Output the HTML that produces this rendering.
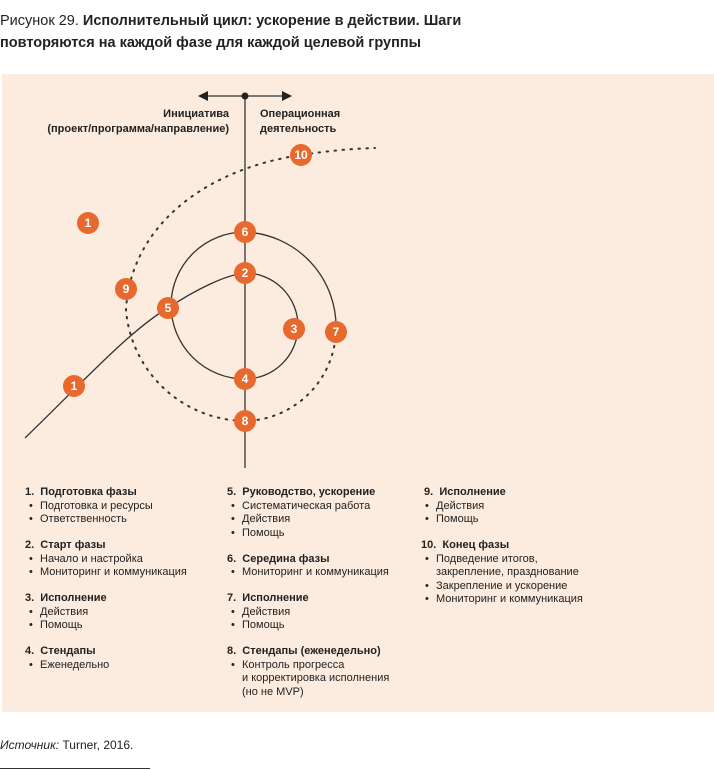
<!DOCTYPE html>
<html><head><meta charset="utf-8"><style>
body{margin:0;width:714px;height:770px;background:#fff;font-family:"Liberation Sans",sans-serif;position:relative;overflow:hidden;color:#222}
.t{position:absolute;left:0;top:10px;font-size:14.5px;line-height:22px}
.panel{position:absolute;left:2px;top:74px;width:712px;height:638px;background:#fcebdf}
.col{position:absolute;top:486px;font-size:11px;line-height:13.5px}
.col b{display:block}
.col .g{margin-bottom:12.5px}
.col div.i{padding-left:15px;position:relative}
.col div.i:before{content:"•";position:absolute;left:4px}
.src{position:absolute;left:0;top:738px;font-size:12px}
.rule{position:absolute;left:0;top:768px;width:150px;border-top:1px solid #333}
</style></head><body>
<div class="t">Рисунок 29. <b>Исполнительный цикл: ускорение в действии. Шаги<br>повторяются на каждой фазе для каждой целевой группы</b></div>
<div class="panel"></div>
<svg style="position:absolute;left:0;top:0" width="714" height="770">
<g fill="none" stroke="#333" stroke-width="1.3">
<line x1="245" y1="96" x2="245" y2="468"/>
<line x1="205" y1="96" x2="285" y2="96"/>
<path d="M25,438 C80,385 130,330 168,308 C195,290 225,275 245,273 A53 53 0 0 1 245,379"/>
<path d="M245,379 A74 74 0 0 1 171,305 A74 74 0 0 1 245,232 A95 95 0 0 1 336,330"/>
<path stroke-dasharray="1.5 6.5" stroke-width="2" stroke-linecap="round" d="M336,330 A93 93 0 0 1 245,421 A121 121 0 0 1 126,310 C130,230 200,170 301,155 Q340,149 375,148"/>
</g>
<circle cx="245" cy="96" r="3.5" fill="#222"/>
<path d="M198,96 L208,91 L208,101Z M292,96 L282,91 L282,101Z" fill="#222"/>
<g font-size="11" font-weight="bold" fill="#222">
<text x="229" y="117" text-anchor="end">Инициатива</text>
<text x="229" y="132" text-anchor="end">(проект/программа/направление)</text>
<text x="260" y="117">Операционная</text>
<text x="260" y="132">деятельность</text>
</g>
<g fill="#e8692e"><circle cx="245" cy="232" r="11"/><circle cx="245" cy="273" r="11"/><circle cx="245" cy="379" r="11"/><circle cx="245" cy="421" r="11"/><circle cx="168" cy="308" r="11"/><circle cx="294" cy="329" r="11"/><circle cx="336" cy="332" r="11"/><circle cx="126" cy="289" r="11"/><circle cx="88" cy="223" r="11"/><circle cx="74" cy="386" r="11"/><circle cx="301" cy="155" r="11"/></g>
<g fill="#fff" font-size="12" font-weight="bold" text-anchor="middle">
<text x="245" y="236">6</text><text x="245" y="277">2</text><text x="245" y="383">4</text><text x="245" y="425">8</text><text x="168" y="312">5</text><text x="294" y="333">3</text><text x="336" y="336">7</text><text x="126" y="293">9</text><text x="88" y="227">1</text><text x="74" y="390">1</text><text x="301" y="159">10</text></g>
</svg>
<div class="col" style="left:25px">
<div class="g"><b>1.&nbsp; Подготовка фазы</b><div class="i">Подготовка и ресурсы</div><div class="i">Ответственность</div></div>
<div class="g"><b>2.&nbsp; Старт фазы</b><div class="i">Начало и настройка</div><div class="i">Мониторинг и коммуникация</div></div>
<div class="g"><b>3.&nbsp; Исполнение</b><div class="i">Действия</div><div class="i">Помощь</div></div>
<div class="g"><b>4.&nbsp; Стендапы</b><div class="i">Еженедельно</div></div>
</div>
<div class="col" style="left:227px">
<div class="g"><b>5.&nbsp; Руководство, ускорение</b><div class="i">Систематическая работа</div><div class="i">Действия</div><div class="i">Помощь</div></div>
<div class="g"><b>6.&nbsp; Середина фазы</b><div class="i">Мониторинг и коммуникация</div></div>
<div class="g"><b>7.&nbsp; Исполнение</b><div class="i">Действия</div><div class="i">Помощь</div></div>
<div class="g"><b>8.&nbsp; Стендапы (еженедельно)</b><div class="i">Контроль прогресса<br>и корректировка исполнения<br>(но не MVP)</div></div>
</div>
<div class="col" style="left:421px">
<div class="g"><b>&nbsp;9.&nbsp; Исполнение</b><div class="i">Действия</div><div class="i">Помощь</div></div>
<div class="g"><b>10.&nbsp; Конец фазы</b><div class="i">Подведение итогов,<br>закрепление, празднование</div><div class="i">Закрепление и ускорение</div><div class="i">Мониторинг и коммуникация</div></div>
</div>
<div class="src"><i>Источник:</i> Turner, 2016.</div>
<div class="rule"></div>
</body></html>
